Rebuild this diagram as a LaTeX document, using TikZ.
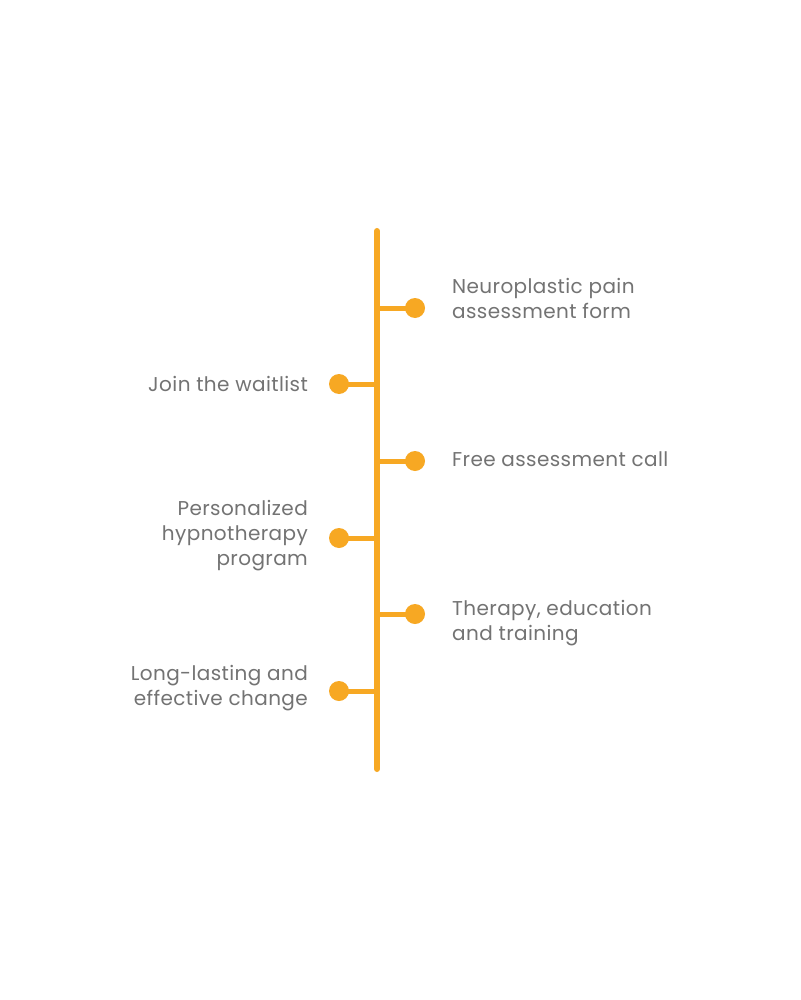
\documentclass[tikz,border=0pt]{standalone}
\usepackage{fontspec}
\setmainfont{Poppins}[LetterSpace=2]
\definecolor{tlorange}{HTML}{F7A823}
\definecolor{tlgray}{HTML}{737373}
\begin{document}
\begin{tikzpicture}[x=1pt,y=-1pt,
  spine/.style={draw=tlorange,line width=6pt,line cap=round},
  branch/.style={draw=tlorange,line width=5pt},
  dot/.style={circle,fill=tlorange,minimum size=20pt,inner sep=0pt},
  rlabel/.style={anchor=west,align=left,text=tlgray,inner sep=0pt,font=\fontsize{20}{25}\selectfont},
  llabel/.style={anchor=east,align=right,text=tlgray,inner sep=0pt,font=\fontsize{20}{25}\selectfont}]
\useasboundingbox[fill=white] (0,0) rectangle (800,1000);
\coordinate (top) at (377,231);
\coordinate (bot) at (377,769);
\draw[spine] (top) -- (bot);
% branches
\foreach \i/\y/\x in {1/308/415,2/384/339,3/461/415,4/538/339,5/614/415,6/691/339}{
  \coordinate (b\i) at (377,\y);
  \node[dot] (d\i) at (\x,\y) {};
  \draw[branch] (b\i) -- (d\i.center);
}
\node[rlabel] (t1) at (452,298) {Neuroplastic pain\\assessment form};
\node[llabel] (t2) at (308,384) {Join the waitlist};
\node[rlabel] (t3) at (452,459) {Free assessment call};
\node[llabel] (t4) at (308,536) {Personalized\\hypnotherapy\\program};
\node[rlabel] (t5) at (452,623) {Therapy, education\\and training};
\node[llabel] (t6) at (308,688) {Long-lasting and\\effective change};
\end{tikzpicture}
\end{document}
